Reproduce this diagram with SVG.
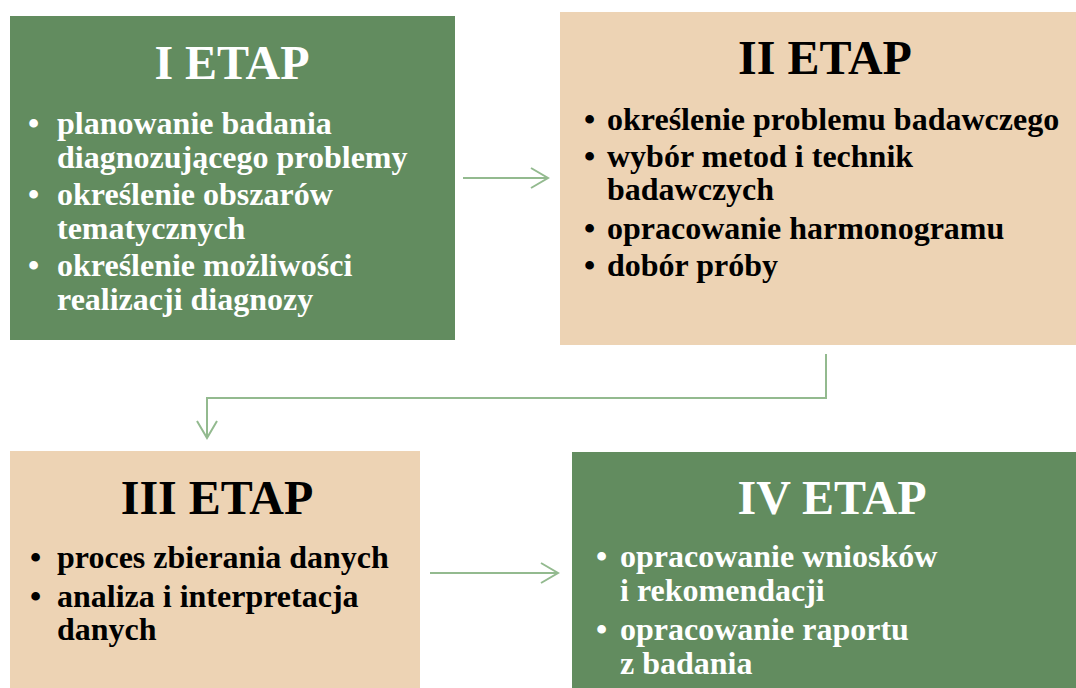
<svg xmlns="http://www.w3.org/2000/svg" width="1076" height="688" viewBox="0 0 1076 688">
<defs>
<style>
.green{fill:#628C5F}
.beige{fill:#EDD3B4}
.t{font-family:"Liberation Serif","Times New Roman",serif;font-weight:bold}
.title{font-size:48px;text-anchor:middle}
.b{font-size:32px}
.w{fill:#FFFFFF}
.k{fill:#000000}
.conn{fill:none;stroke:#93BA8F;stroke-width:2}
</style>
<marker id="arr" markerUnits="userSpaceOnUse" markerWidth="24" markerHeight="24" viewBox="-20 -12 24 24" refX="0" refY="0" orient="auto">
<path d="M-17,-10 L0,0 L-17,10" fill="none" stroke="#93BA8F" stroke-width="2"/>
</marker>
</defs>
<rect width="1076" height="688" fill="#FFFFFF"/>
<g id="node1">
<rect class="green" x="10" y="16" width="445" height="324"/>
<text class="t title w" x="232" y="79">I ETAP</text>
<g class="t b w">
<text x="28" y="134">•</text>
<text x="57" y="134">planowanie badania</text>
<text x="57" y="168">diagnozującego problemy</text>
<text x="28" y="205">•</text>
<text x="57" y="205">określenie obszarów</text>
<text x="57" y="239">tematycznych</text>
<text x="28" y="276">•</text>
<text x="57" y="276">określenie możliwości</text>
<text x="57" y="310">realizacji diagnozy</text>
</g>
</g>
<g id="node2">
<rect class="beige" x="560" y="12" width="516" height="333"/>
<text class="t title k" x="825" y="74">II ETAP</text>
<g class="t b k">
<text x="584" y="130">•</text>
<text x="607" y="130">określenie problemu badawczego</text>
<text x="584" y="167">•</text>
<text x="607" y="167">wybór metod i technik</text>
<text x="607" y="200">badawczych</text>
<text x="584" y="239">•</text>
<text x="607" y="239">opracowanie harmonogramu</text>
<text x="584" y="276">•</text>
<text x="607" y="276">dobór próby</text>
</g>
</g>
<g id="node3">
<rect class="beige" x="10" y="451" width="410" height="237"/>
<text class="t title k" x="217" y="514">III ETAP</text>
<g class="t b k">
<text x="30" y="568">•</text>
<text x="57" y="568">proces zbierania danych</text>
<text x="30" y="607">•</text>
<text x="57" y="607">analiza i interpretacja</text>
<text x="57" y="640">danych</text>
</g>
</g>
<g id="node4">
<rect class="green" x="572" y="452" width="504" height="236"/>
<text class="t title w" x="832" y="514">IV ETAP</text>
<g class="t b w">
<text x="596" y="567">•</text>
<text x="620" y="567">opracowanie wniosków</text>
<text x="620" y="601">i rekomendacji</text>
<text x="596" y="640">•</text>
<text x="620" y="640">opracowanie raportu</text>
<text x="620" y="674">z badania</text>
</g>
</g>
<g id="connectors">
<path class="conn" d="M463,178 L548,178" marker-end="url(#arr)"/>
<path class="conn" d="M826,354 L826,398 L207,398 L207,438" marker-end="url(#arr)"/>
<path class="conn" d="M430,573 L558,573" marker-end="url(#arr)"/>
</g>
</svg>
